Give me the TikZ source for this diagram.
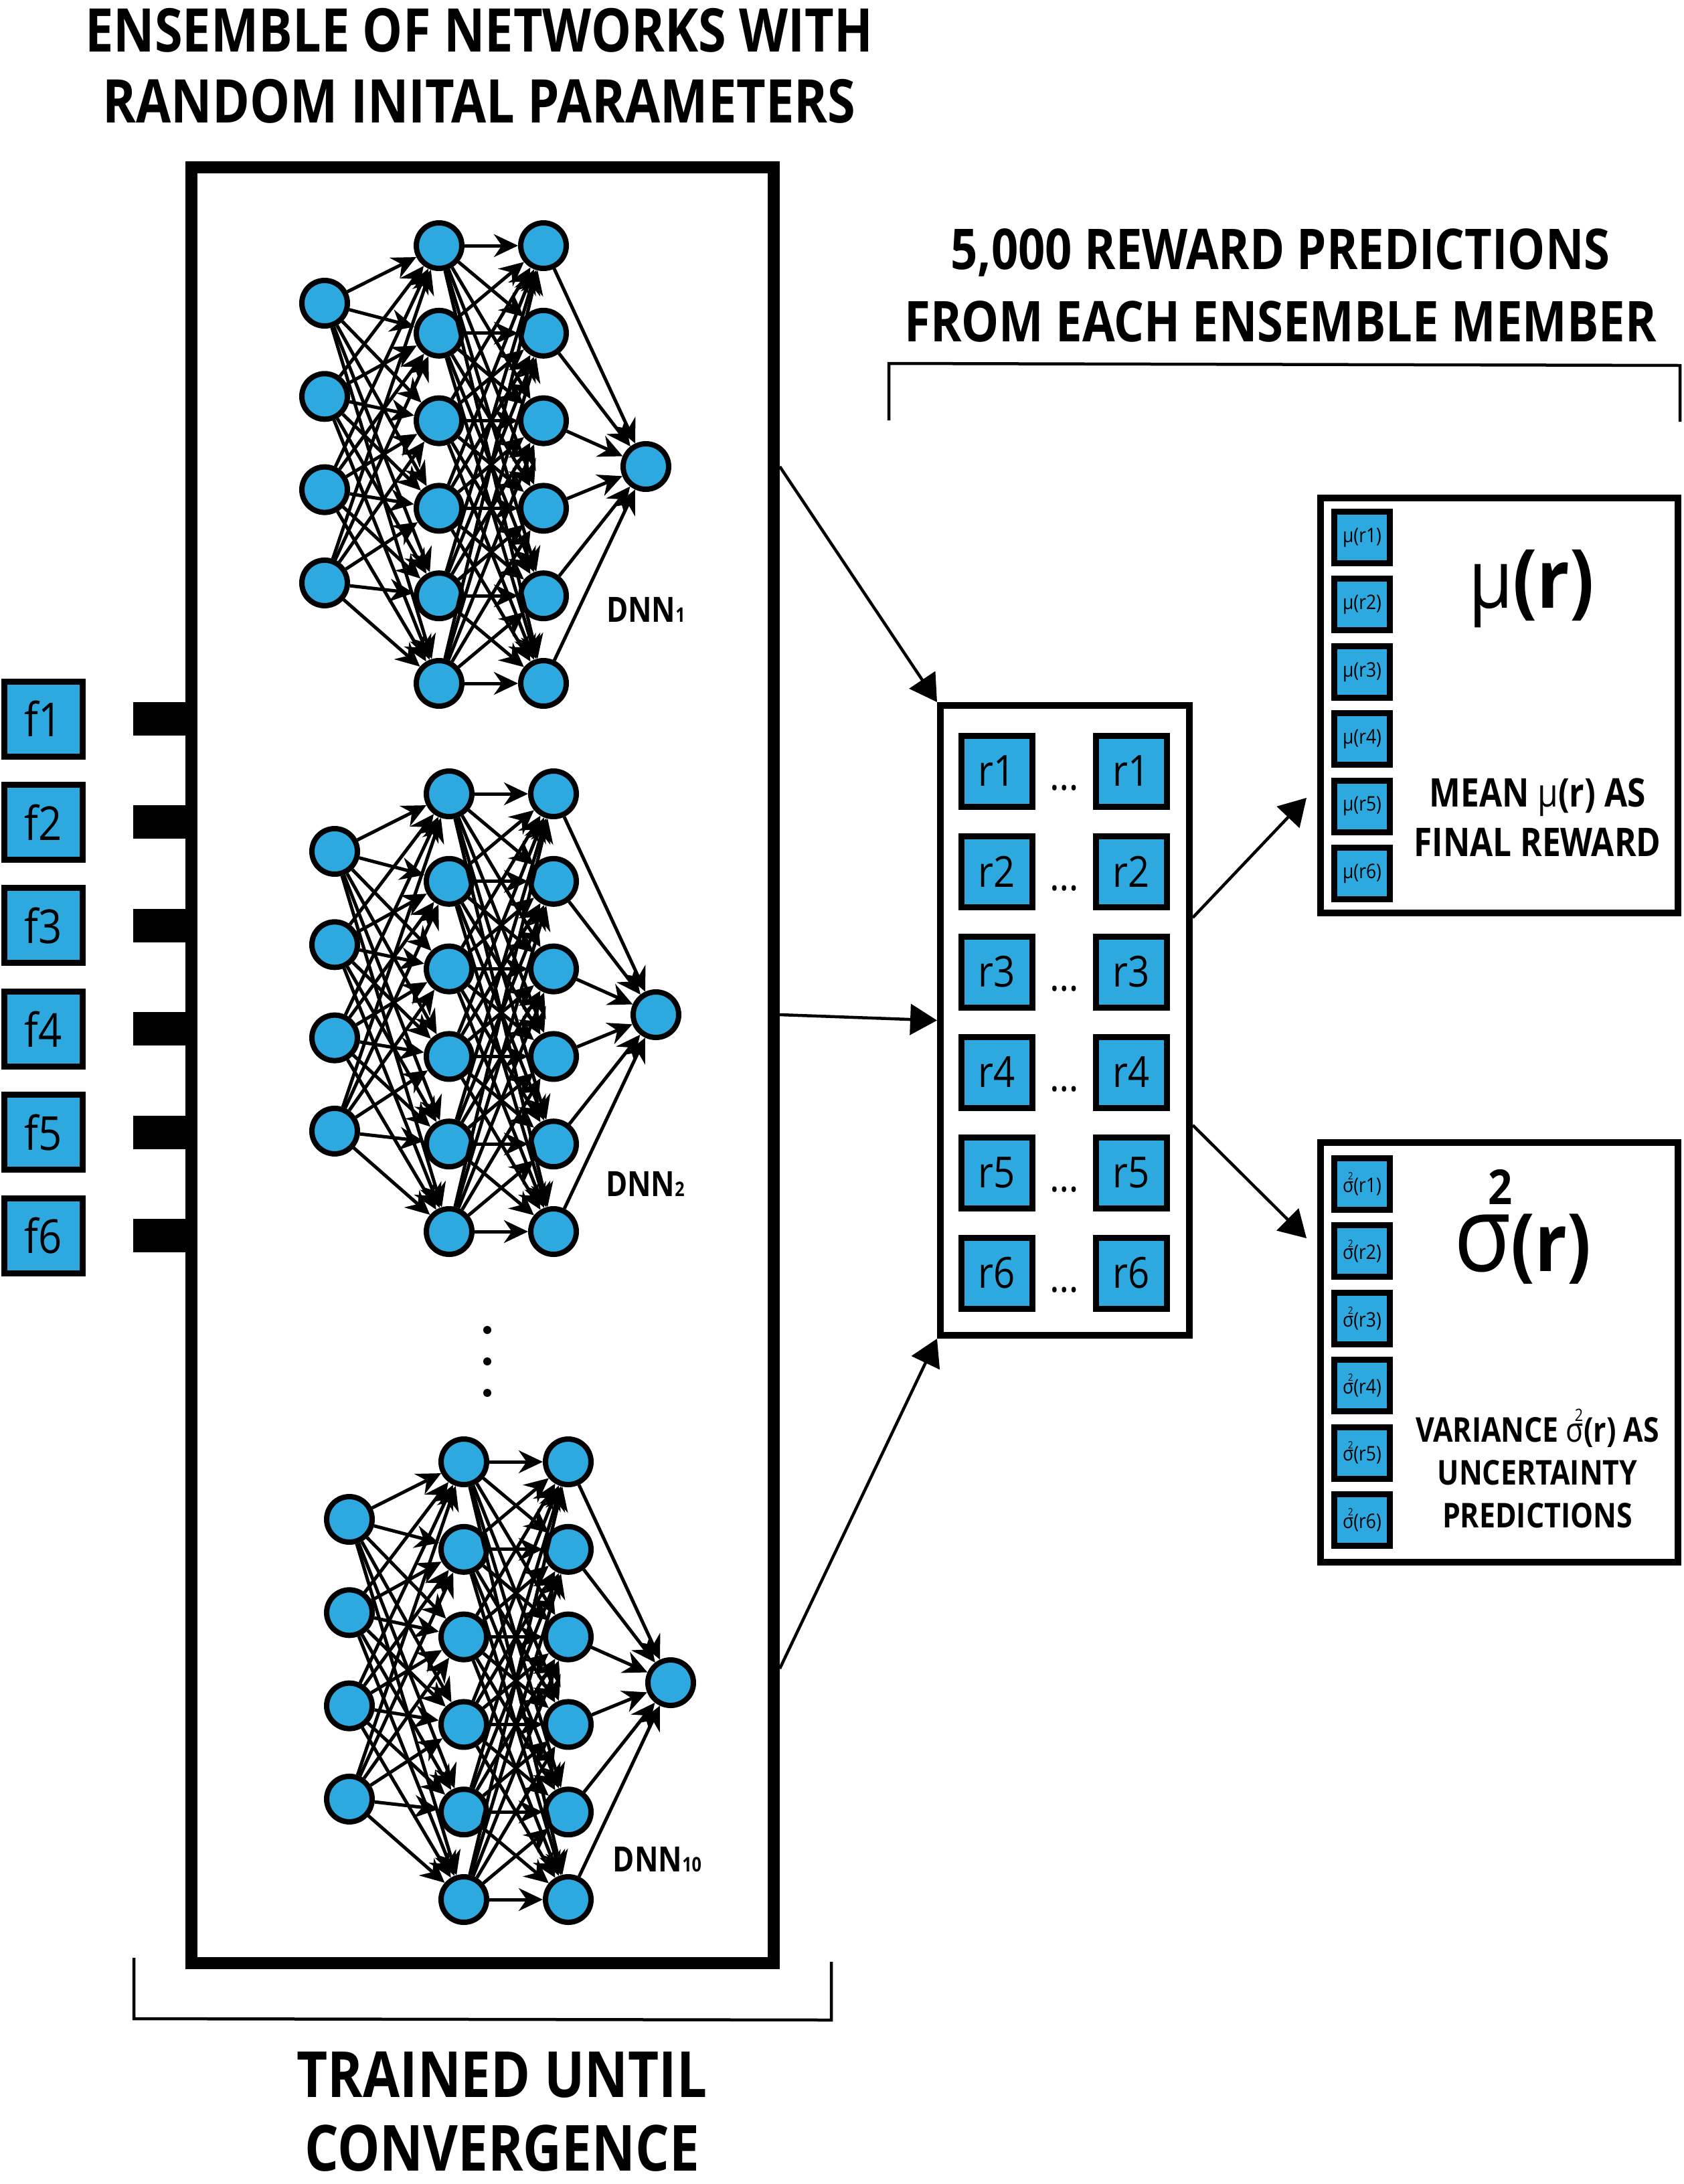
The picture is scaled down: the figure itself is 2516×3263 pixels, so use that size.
\documentclass[tikz,border=0pt]{standalone}
\usepackage{graphicx}
\usepackage{fontspec}
\setmainfont{Open Sans}[FakeStretch=0.88]
\newfontfamily\headfont{Open Sans}[FakeStretch=0.84]
\usetikzlibrary{arrows.meta,positioning,calc}
\definecolor{cellblue}{RGB}{45,169,224}
\newcommand{\varsym}{σ\makebox[0pt][r]{\raisebox{.62em}{\scalebox{.5}{2}}\kern.02em}}

\begin{document}
\begin{tikzpicture}[x=1pt, y=-1pt,
  neuron/.style = {circle, draw, line width=8pt, fill=cellblue, minimum size=68pt, inner sep=0pt},
  link/.style = {line width=5pt, -{Stealth[length=36pt, width=34pt]}},
  frame/.style = {draw, line width=18pt, inner sep=0pt},
  outbox/.style = {draw, line width=10pt, inner sep=0pt},
  stub/.style = {fill=black, minimum width=86pt, minimum height=50pt, inner sep=0pt},
  dot/.style = {circle, fill=black, minimum size=12pt, inner sep=0pt},
  fcell/.style = {draw, line width=9pt, fill=cellblue, minimum width=117pt, minimum height=112pt, inner sep=0pt, font=\fontsize{70}{70}\selectfont},
  rcell/.style = {draw, line width=9pt, fill=cellblue, minimum size=106pt, inner sep=0pt, font=\fontsize{64}{64}\selectfont},
  scell/.style = {draw, line width=9pt, fill=cellblue, minimum width=83pt, minimum height=77pt, inner sep=0pt, font=\fontsize{30}{30}\selectfont},
  title/.style = {align=center, font=\headfont\bfseries\fontsize{84}{108}\selectfont},
  caption/.style = {align=center, font=\headfont\bfseries\fontsize{59}{74}\selectfont},
  dnnlabel/.style = {font=\headfont\bfseries\fontsize{52}{52}\selectfont},
  arrow/.style = {line width=4.5pt, -{Triangle[length=40pt, width=46pt]}},
  bracket/.style = {line width=4.5pt}
  ]
\useasboundingbox (0,0) rectangle (2516,3263);

% Ensemble frame
\node[frame, minimum width=870pt, minimum height=2683pt] (ens) at (721,1591.5) {};

% Features
\foreach \k in {1,...,6}{
  \node[fcell] (f\k) at (65,{1074+154.4*(\k-1)}) {f\k};
  \node[stub] (stub\k) at (242,{1074+154.4*(\k-1)}) {};
}

% Networks
\foreach \net/\dx/\dy/\idx/\lx/\ly in {a/0/0/1/965/911, b/15/819/2/964/1769, c/37/1817/10/982/2778}{
  \foreach \i in {1,...,4}
    \node[neuron] (\net-in\i) at ({485+\dx},{453+139.3*(\i-1)+\dy}) {};
  \foreach \i in {1,...,6}{
    \node[neuron] (\net-ha\i) at ({656+\dx},{367+130.8*(\i-1)+\dy}) {};
    \node[neuron] (\net-hb\i) at ({812+\dx},{367+130.8*(\i-1)+\dy}) {};
  }
  \node[neuron] (\net-out) at ({965+\dx},{697+\dy}) {};
  \foreach \i in {1,...,4}
    \foreach \j in {1,...,6}
      \draw[link] (\net-in\i) -- (\net-ha\j);
  \foreach \i in {1,...,6}
    \foreach \j in {1,...,6}
      \draw[link] (\net-ha\i) -- (\net-hb\j);
  \foreach \i in {1,...,6}
    \draw[link] (\net-hb\i) -- (\net-out);
  \node[dnnlabel] (\net-lab) at (\lx,\ly) {DNN{\fontsize{30}{30}\selectfont\idx}};
}
\foreach \k in {1,2,3}
  \node[dot] (vd\k) at (728,{1987+47*(\k-1)}) {};

% Reward predictions
\node[outbox, minimum width=372pt, minimum height=941pt] (preds) at (1591,1524.5) {};
\foreach \k in {1,...,6}{
  \node[rcell] (rl\k) at (1489,{1152+150*(\k-1)}) {r\k};
  \node[rcell] (rr\k) at (1690,{1152+150*(\k-1)}) {r\k};
  \node[anchor=base, font=\fontsize{63}{63}\selectfont, inner sep=0pt] (dots\k) at (1590,{1180+150*(\k-1)}) {\dots};
}

% Mean box
\node[outbox, minimum width=534pt, minimum height=620pt] (mu) at (2240,1054) {};
\foreach \k in {1,...,6}
  \node[scell] (m\k) at (2035,{803+100.4*(\k-1)}) {μ(r\k)};
\node[font=\fontsize{122}{122}\selectfont] (mubig) at (2288,880) {μ{\bfseries(r)}};
\node[caption] (mutxt) at (2297,1221) {MEAN {\mdseries μ}(r) AS\\FINAL REWARD};

% Variance box
\node[outbox, minimum width=534pt, minimum height=627pt] (sig) at (2240,2020.5) {};
\foreach \k in {1,...,6}
  \node[scell] (s\k) at (2035,{1769+100.4*(\k-1)}) {\varsym(r\k)};
\node (sigbig) at (2275,1833) {{\fontsize{158}{158}\selectfont σ}\makebox[0pt][r]{\raisebox{100pt}{\bfseries\fontsize{72}{72}\selectfont 2}\kern-2pt}{\bfseries\fontsize{120}{120}\selectfont(r)}};
\node[caption, font=\headfont\bfseries\fontsize{51}{64}\selectfont] (sigtxt) at (2297,2194) {VARIANCE {\mdseries\varsym}(r) AS\\UNCERTAINTY\\PREDICTIONS};

% Arrows
\draw[arrow] (ens.east |- a-out) -- (preds.north west);
\draw[arrow] (ens.east |- b-out) -- (preds.west);
\draw[arrow] ($(ens.east |- c-out)+(0,-21)$) -- (preds.south west);
\draw[arrow] ($(preds.east)+(0,-153.5)$) -- ($(mu.west)+(-16,138)$);
\draw[arrow] ($(preds.east)+(0,156.5)$) -- ($(sig.west)+(-16,-170.5)$);

% Brackets and titles
\draw[bracket] (200,2925) -- (200,3016) -- (1242,3018) -- (1242,2931);
\draw[bracket] (1328,628) -- (1328,543) -- (2510,546) -- (2510,630);
\node[title, font=\headfont\bfseries\fontsize{90}{106}\selectfont] (ttl) at (716,98) {ENSEMBLE OF NETWORKS WITH\\RANDOM INITAL PARAMETERS};
\node[title] (predttl) at (1913,426) {5,000 REWARD PREDICTIONS\\FROM EACH ENSEMBLE MEMBER};
\node[title, font=\headfont\bfseries\fontsize{95}{110}\selectfont] (trainttl) at (750,3155) {TRAINED UNTIL\\CONVERGENCE};
\end{tikzpicture}
\end{document}
